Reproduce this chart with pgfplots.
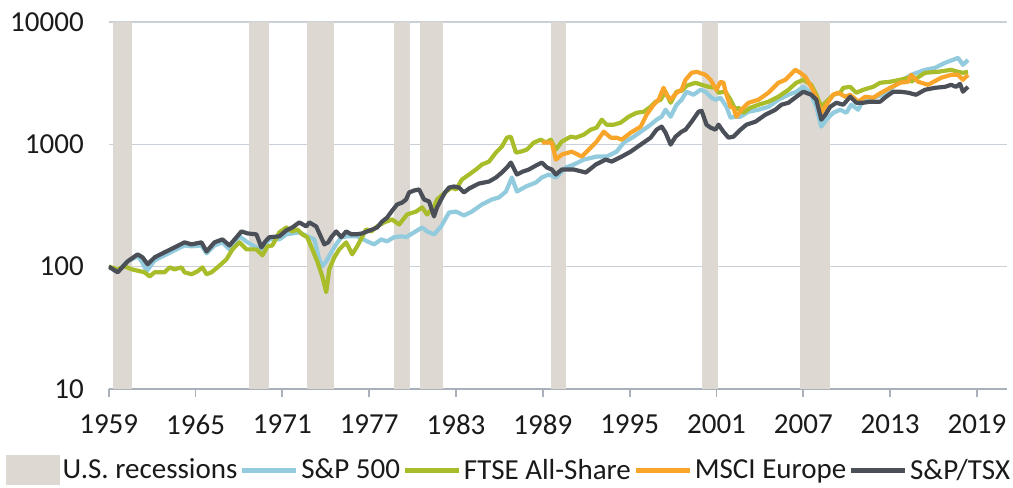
\documentclass[border=0pt]{standalone}
\usepackage{fontspec}
\setmainfont{Carlito}
\usepackage{pgfplots}
\pgfplotsset{compat=1.18}
\usetikzlibrary{calc}

\definecolor{recess}{HTML}{DDD8D2}
\definecolor{spx}{HTML}{92CBDD}
\definecolor{ftse}{HTML}{A9BD2B}
\definecolor{msci}{HTML}{F8A52A}
\definecolor{tsx}{HTML}{4B4F58}
\definecolor{gridgray}{HTML}{C9D0D8}
\definecolor{axisgray}{HTML}{A8B0B9}
\definecolor{txt}{HTML}{1A1A1A}

\pgfplotsset{
  serie/.style={line width=2.1bp, line join=round, #1,
    legend image code/.code={\draw[#1, line width=2.6bp] (0bp,0bp) -- (27bp,0bp);}},
}

\begin{document}
\begin{tikzpicture}
\begin{axis}[name=ax,
  width=450.5bp, height=184bp, scale only axis,
  xmin=1959, xmax=2021.1,
  ymode=log, ymin=10, ymax=10000,
  xtick={1959,1965,...,2019},
  ytick={10,100,1000,10000}, yticklabels={10,100,1000,10000},
  yminorticks=false,
  /pgf/number format/.cd, 1000 sep={}, assume math mode=true, /pgfplots/.cd,
  axis x line*=bottom, axis y line*=left,
  y axis line style={draw=none},
  x axis line style={-, draw=axisgray, line width=0.9bp},
  ymajorgrids, grid style={draw=gridgray, line width=0.6bp},
  xtick align=outside, major tick length=4bp,
  xtick style={draw=axisgray, line width=0.9bp}, ytick style={draw=none},
  tick label style={font=\fontsize{14.6}{17}\selectfont, text=txt},
  yticklabel style={xshift=-9bp},
  xticklabel style={yshift=-5.5bp},
  legend columns=5,
  legend style={at={(0.446,-0.222)}, anchor=center, draw=none, fill=none,
    font=\fontsize{14.6}{17}\selectfont, text=txt,
    column sep=0pt, inner sep=0pt, nodes={inner sep=1.2bp}},
  legend cell align=left,
]
% U.S. recessions
\addplot[fill=recess, draw=none,
  legend image code/.code={\fill[recess] (0bp,-7.5bp) rectangle (27bp,7.5bp);}]
  coordinates {(1959.28,10) (1959.28,10000) (1960.59,10000) (1960.59,10)};
\addlegendentry{U.S. recessions}
\addplot[fill=recess, draw=none, forget plot] coordinates {(1968.72,10) (1968.72,10000) (1970.10,10000) (1970.10,10)};
\addplot[fill=recess, draw=none, forget plot] coordinates {(1972.72,10) (1972.72,10000) (1974.59,10000) (1974.59,10)};
\addplot[fill=recess, draw=none, forget plot] coordinates {(1978.72,10) (1978.72,10000) (1979.83,10000) (1979.83,10)};
\addplot[fill=recess, draw=none, forget plot] coordinates {(1980.52,10) (1980.52,10000) (1982.10,10000) (1982.10,10)};
\addplot[fill=recess, draw=none, forget plot] coordinates {(1989.53,10) (1989.53,10000) (1990.59,10000) (1990.59,10)};
\addplot[fill=recess, draw=none, forget plot] coordinates {(1999.99,10) (1999.99,10000) (2001.09,10000) (2001.09,10)};
\addplot[fill=recess, draw=none, forget plot] coordinates {(2006.77,10) (2006.77,10000) (2008.84,10000) (2008.84,10)};

% S&P 500
\addplot[serie=spx] coordinates {
(1959.00,100) (1959.62,91.6) (1960.31,110.6) (1961.00,121.4) (1961.28,110.6) (1961.62,91.6)
(1962.17,112.7) (1962.86,123.7) (1963.55,136) (1964.24,149) (1964.72,146.5) (1965.41,149)
(1965.76,128.4) (1966.31,149) (1966.86,158) (1967.34,138.4) (1968.03,177) (1968.59,158)
(1969.21,143.6) (1969.55,138.4) (1970.10,167) (1970.79,167) (1971.28,183.5) (1972.17,190.5)
(1972.86,174) (1973.21,167) (1973.55,114.8) (1973.76,100.6) (1974.03,110.6) (1974.38,131)
(1974.72,152) (1975.07,174) (1975.48,177) (1976.17,177) (1976.86,161) (1977.34,152)
(1977.83,167) (1978.24,161) (1978.72,174) (1979.28,177) (1979.55,174) (1980.10,190.5)
(1980.66,209) (1981.00,194) (1981.48,183.5) (1981.97,213) (1982.52,277) (1983.00,282)
(1983.55,262) (1984.10,282) (1984.79,322) (1985.48,354) (1985.97,368) (1986.45,411)
(1986.86,535) (1987.21,411) (1987.83,452) (1988.52,487) (1988.93,535) (1989.41,566)
(1989.90,535) (1990.59,646) (1991.14,683) (1991.83,750) (1992.72,794) (1993.41,794)
(1994.10,871) (1994.59,1033) (1995.28,1154) (1995.97,1317) (1996.45,1447) (1996.86,1589)
(1997.21,1680) (1997.48,1917) (1997.83,1680) (1998.24,2105) (1998.59,2313) (1998.93,2690)
(1999.41,2540) (1999.90,2790) (2000.24,2690) (2000.66,2400) (2000.93,2313) (2001.28,2400)
(2001.69,2025) (2001.97,1650) (2002.31,1680) (2002.66,1680) (2003.21,1845) (2003.90,1917)
(2004.59,2025) (2005.28,2313) (2005.97,2540) (2006.52,2690) (2007.00,2950) (2007.48,2640)
(2007.90,2025) (2008.24,1393) (2008.59,1589) (2009.07,1810) (2009.55,1917) (2009.97,1810)
(2010.31,2105) (2010.79,1917) (2011.14,2313) (2011.83,2400) (2012.52,2540) (2013.21,2950)
(2013.90,3366) (2014.45,3697) (2015.41,4061) (2016.10,4215) (2016.79,4635) (2017.34,4898)
(2017.69,5085) (2018.03,4461) (2018.38,4898)
};
\addlegendentry{S\&P 500}

% FTSE All-Share
\addplot[serie=ftse] coordinates {
(1959.00,100) (1959.62,95.1) (1960.10,100.6) (1960.59,95.1) (1961.48,89.9) (1961.83,83.2)
(1962.17,89.9) (1962.86,89.9) (1963.21,98.6) (1963.55,95.1) (1964.03,98.6) (1964.24,89.9)
(1964.72,86.6) (1965.14,91.6) (1965.48,98.6) (1965.76,86.6) (1966.10,89.9) (1966.52,98.6)
(1967.14,114.8) (1967.55,138.4) (1968.03,158) (1968.52,138.4) (1969.21,138.4) (1969.62,123.7)
(1969.97,146.5) (1970.31,149) (1970.79,190.5) (1971.28,209) (1971.69,194) (1972.03,201.5)
(1972.38,183.5) (1972.72,174) (1973.07,138.4) (1973.41,110.6) (1973.76,83.2) (1974.03,61.8)
(1974.24,95.1) (1974.59,119) (1974.93,138.4) (1975.41,158) (1975.83,126) (1976.17,146.5)
(1976.79,201.5) (1977.14,194) (1977.55,213) (1978.03,230) (1978.59,243) (1979.07,221)
(1979.62,267) (1980.24,282) (1980.66,305) (1981.00,267) (1981.48,310) (1981.69,354)
(1982.31,411) (1982.72,443) (1983.00,427) (1983.41,515) (1983.90,566) (1984.38,622)
(1984.79,683) (1985.28,722) (1985.76,856) (1986.17,958) (1986.52,1133) (1986.79,1154)
(1987.14,856) (1987.48,871) (1987.90,905) (1988.38,1033) (1988.86,1091) (1989.21,1033)
(1989.55,1091) (1989.90,905) (1990.31,1052) (1990.93,1154) (1991.28,1133) (1991.83,1199)
(1992.31,1317) (1992.72,1368) (1993.07,1589) (1993.41,1447) (1993.90,1447) (1994.38,1503)
(1994.93,1680) (1995.48,1810) (1995.97,1845) (1996.45,2025) (1996.79,2230) (1997.14,2313)
(1997.48,2690) (1997.83,2185) (1998.24,2690) (1998.59,2740) (1998.93,3010) (1999.55,3185)
(1999.97,3065) (2000.45,2950) (2000.93,2895) (2001.14,2640) (2001.62,2690) (2001.97,2313)
(2002.31,1917) (2002.52,1990) (2002.86,1810) (2003.34,1990) (2003.90,2105) (2004.59,2230)
(2005.28,2447) (2005.97,2790) (2006.52,3185) (2007.00,3366) (2007.55,3065) (2007.90,2540)
(2008.24,2025) (2008.59,2230) (2009.07,2540) (2009.55,2640) (2009.76,2895) (2010.24,2950)
(2010.66,2640) (2011.14,2790) (2011.83,2950) (2012.31,3185) (2013.00,3245) (2013.69,3366)
(2014.24,3495) (2014.45,3245) (2015.41,3840) (2016.31,3915) (2017.21,4061) (2017.69,3915)
(2018.03,3840) (2018.38,3915)
};
\addlegendentry{FTSE All-Share}

% MSCI Europe
\addplot[serie=msci] coordinates {
(1988.93,1033) (1989.62,1033) (1989.90,750) (1990.31,824) (1991.00,871) (1991.69,794)
(1992.31,940) (1992.72,1052) (1993.21,1268) (1993.69,1133) (1994.10,1133) (1994.45,1091)
(1995.07,1245) (1995.76,1393) (1996.17,1745) (1996.66,2105) (1997.00,2313) (1997.34,2895)
(1997.55,2540) (1997.83,2313) (1998.24,2640) (1998.59,2790) (1998.86,3366) (1999.28,3840)
(1999.62,3915) (2000.24,3697) (2000.59,3366) (2000.79,3065) (2001.00,2790) (2001.28,3245)
(2001.48,3185) (2001.69,2540) (2001.97,2025) (2002.17,1990) (2002.38,1680) (2002.72,1917)
(2003.21,2185) (2003.90,2313) (2004.59,2640) (2005.28,3185) (2005.76,3366) (2006.45,4061)
(2006.79,3840) (2007.14,3560) (2007.55,2950) (2007.90,2400) (2008.24,1810) (2008.59,2105)
(2009.07,2540) (2009.41,2640) (2009.90,2447) (2010.24,2540) (2010.79,2230) (2011.28,2447)
(2011.83,2400) (2012.38,2640) (2013.00,2895) (2013.69,3185) (2014.24,3245) (2014.45,3697)
(2014.93,3245) (2015.62,3065) (2016.52,3495) (2017.21,3697) (2017.69,3697) (2018.03,3366)
(2018.38,3697)
};
\addlegendentry{MSCI Europe}

% S&P/TSX
\addplot[serie=tsx] coordinates {
(1959.00,100) (1959.62,89.9) (1960.31,110.6) (1961.00,126) (1961.34,119) (1961.69,104.5)
(1962.17,119) (1962.86,131) (1963.55,143.6) (1964.24,158) (1964.72,152) (1965.41,158)
(1965.76,133) (1966.31,158) (1966.86,167) (1967.34,149) (1967.76,170) (1968.17,194)
(1968.59,187) (1969.21,183.5) (1969.55,143.6) (1969.83,161) (1970.10,174) (1970.79,177)
(1971.28,198) (1971.69,209) (1972.17,230) (1972.66,213) (1972.86,230) (1973.34,213)
(1973.62,180) (1973.90,152) (1974.17,158) (1974.38,174) (1974.72,194) (1975.07,174)
(1975.41,194) (1975.76,184) (1976.17,184) (1976.52,187) (1976.86,194) (1977.21,201)
(1977.55,209) (1977.90,234) (1978.24,252) (1978.59,287) (1978.93,322) (1979.28,334)
(1979.55,354) (1979.76,404) (1980.10,419) (1980.45,427) (1980.79,354) (1981.14,341)
(1981.48,257) (1981.69,305) (1981.97,354) (1982.24,404) (1982.52,443) (1982.86,452)
(1983.21,443) (1983.55,404) (1983.90,435) (1984.59,478) (1985.28,496) (1985.76,535)
(1986.17,588) (1986.52,646) (1986.79,709) (1987.21,566) (1987.62,599) (1988.03,622)
(1988.52,670) (1988.93,709) (1989.28,646) (1989.62,622) (1989.90,566) (1990.31,622)
(1991.14,622) (1991.97,588) (1992.66,683) (1993.34,750) (1993.76,722) (1994.45,794)
(1995.07,871) (1995.76,994) (1996.45,1133) (1996.86,1317) (1997.21,1396) (1997.48,1245)
(1997.83,994) (1998.17,1154) (1998.59,1268) (1998.86,1317) (1999.28,1530) (1999.76,1845)
(1999.97,1880) (2000.31,1447) (2000.59,1368) (2000.93,1317) (2001.14,1447) (2001.48,1268)
(2001.83,1133) (2002.17,1154) (2002.66,1317) (2003.07,1447) (2003.69,1530) (2004.38,1745)
(2005.07,1917) (2005.48,2105) (2005.97,2185) (2006.52,2447) (2007.00,2690) (2007.55,2540)
(2007.90,2313) (2008.24,1589) (2008.52,1745) (2008.86,2025) (2009.28,2185) (2009.76,2105)
(2010.24,2447) (2010.66,2185) (2011.14,2185) (2011.62,2230) (2012.31,2230) (2012.72,2447)
(2013.21,2690) (2013.69,2690) (2014.24,2640) (2014.79,2540) (2015.41,2790) (2016.10,2895)
(2016.79,2950) (2017.21,3065) (2017.55,2950) (2017.83,3120) (2018.03,2690) (2018.38,2950)
};
\addlegendentry{S\&P/TSX}
\end{axis}
\path ($(ax.south west)+(-54.5bp,-49.5bp)$) rectangle ($(ax.south west)+(452bp,195bp)$);
\end{tikzpicture}
\end{document}
